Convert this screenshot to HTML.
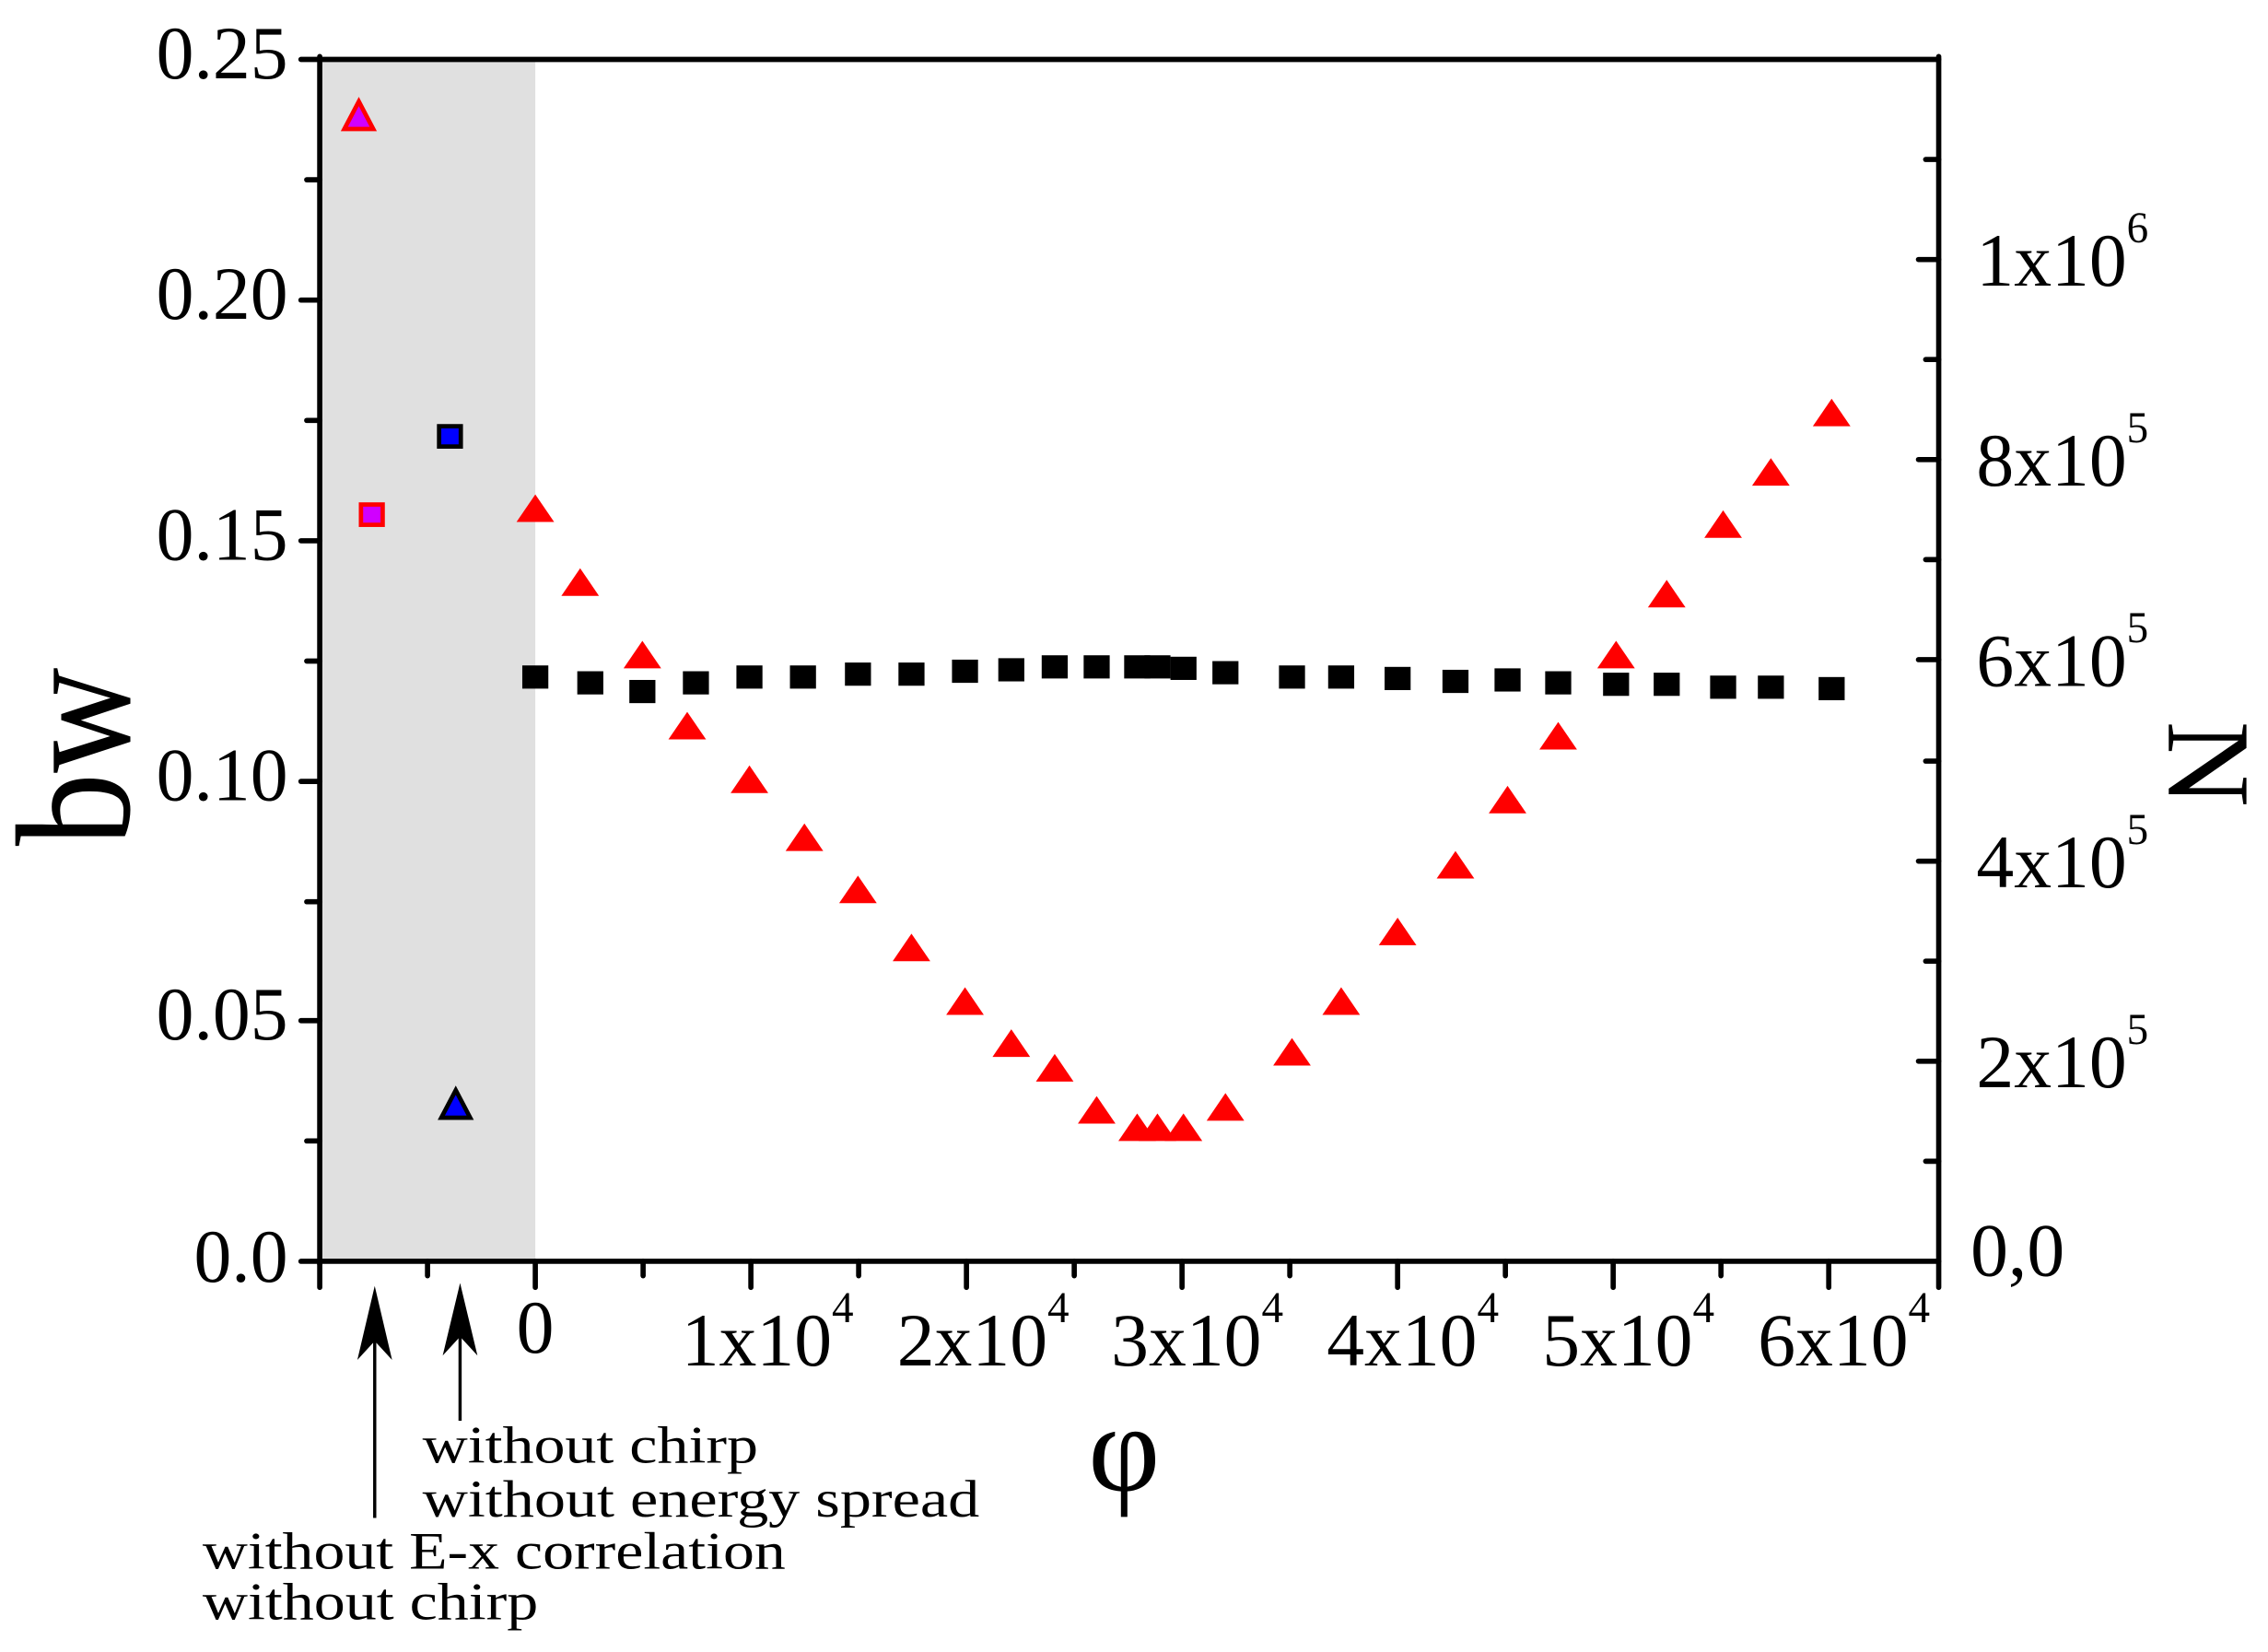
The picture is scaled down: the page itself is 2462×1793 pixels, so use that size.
<!DOCTYPE html>
<html><head><meta charset="utf-8"><style>
html,body{margin:0;padding:0;background:#fff;}
svg{display:block;}
text{font-family:"Liberation Serif","Times New Roman",serif;fill:#000;}
</style></head><body>
<svg width="2462" height="1793" viewBox="0 0 1567.6 1139.5" preserveAspectRatio="none" xmlns="http://www.w3.org/2000/svg">
<rect x="221" y="41" width="149" height="829" fill="#e0e0e0"/>
<g stroke="#000" stroke-width="3.6" fill="none" stroke-linecap="round">
<line x1="221" y1="41" x2="1340" y2="41"/>
<line x1="221" y1="39" x2="221" y2="872"/>
<line x1="1340" y1="39" x2="1340" y2="888"/>
<line x1="208" y1="870" x2="1340" y2="870"/>
<line x1="208" y1="41" x2="221" y2="41"/>
<line x1="212" y1="124" x2="221" y2="124"/>
<line x1="208" y1="207" x2="221" y2="207"/>
<line x1="212" y1="290" x2="221" y2="290"/>
<line x1="208" y1="373" x2="221" y2="373"/>
<line x1="212" y1="456" x2="221" y2="456"/>
<line x1="208" y1="539" x2="221" y2="539"/>
<line x1="212" y1="622" x2="221" y2="622"/>
<line x1="208" y1="704" x2="221" y2="704"/>
<line x1="212" y1="787" x2="221" y2="787"/>
<line x1="221" y1="870" x2="221" y2="888"/>
<line x1="295.5" y1="870" x2="295.5" y2="880"/>
<line x1="370" y1="870" x2="370" y2="888"/>
<line x1="444.5" y1="870" x2="444.5" y2="880"/>
<line x1="519" y1="870" x2="519" y2="888"/>
<line x1="593.5" y1="870" x2="593.5" y2="880"/>
<line x1="668" y1="870" x2="668" y2="888"/>
<line x1="742.5" y1="870" x2="742.5" y2="880"/>
<line x1="817" y1="870" x2="817" y2="888"/>
<line x1="891.5" y1="870" x2="891.5" y2="880"/>
<line x1="966" y1="870" x2="966" y2="888"/>
<line x1="1040.5" y1="870" x2="1040.5" y2="880"/>
<line x1="1115" y1="870" x2="1115" y2="888"/>
<line x1="1189.5" y1="870" x2="1189.5" y2="880"/>
<line x1="1264" y1="870" x2="1264" y2="888"/>
<line x1="1326" y1="732" x2="1340" y2="732"/>
<line x1="1326" y1="594" x2="1340" y2="594"/>
<line x1="1326" y1="455" x2="1340" y2="455"/>
<line x1="1326" y1="317" x2="1340" y2="317"/>
<line x1="1326" y1="179" x2="1340" y2="179"/>
<line x1="1331" y1="801" x2="1340" y2="801"/>
<line x1="1331" y1="663" x2="1340" y2="663"/>
<line x1="1331" y1="525" x2="1340" y2="525"/>
<line x1="1331" y1="386" x2="1340" y2="386"/>
<line x1="1331" y1="248" x2="1340" y2="248"/>
<line x1="1331" y1="110" x2="1340" y2="110"/>
</g>
<g font-size="52" text-anchor="end">
<text x="199" y="54">0.25</text>
<text x="199" y="220">0.20</text>
<text x="199" y="386">0.15</text>
<text x="199" y="552">0.10</text>
<text x="199" y="717">0.05</text>
<text x="199" y="884">0.0</text>
</g>
<g font-size="52">
<text x="370" y="933" text-anchor="middle">0</text>
<text x="471" y="942">1x10<tspan font-size="30" dy="-30">4</tspan></text>
<text x="620" y="942">2x10<tspan font-size="30" dy="-30">4</tspan></text>
<text x="768" y="942">3x10<tspan font-size="30" dy="-30">4</tspan></text>
<text x="917" y="942">4x10<tspan font-size="30" dy="-30">4</tspan></text>
<text x="1066" y="942">5x10<tspan font-size="30" dy="-30">4</tspan></text>
<text x="1215" y="942">6x10<tspan font-size="30" dy="-30">4</tspan></text>
</g>
<g font-size="52">
<text x="1362" y="880">0,0</text>
<text x="1366" y="750">2x10<tspan font-size="30" dy="-30">5</tspan></text>
<text x="1366" y="612">4x10<tspan font-size="30" dy="-30">5</tspan></text>
<text x="1366" y="473">6x10<tspan font-size="30" dy="-30">5</tspan></text>
<text x="1366" y="335">8x10<tspan font-size="30" dy="-30">5</tspan></text>
<text x="1366" y="197">1x10<tspan font-size="30" dy="-30">6</tspan></text>
</g>
<text transform="translate(89,522) rotate(-90)" font-size="113" text-anchor="middle" textLength="123" lengthAdjust="spacingAndGlyphs">bw</text>
<text transform="translate(1499,527) rotate(90)" font-size="82" text-anchor="middle">N</text>
<text x="777" y="1028" font-size="86" text-anchor="middle">φ</text>
<g font-size="36">
<text x="292" y="1009" textLength="232" lengthAdjust="spacingAndGlyphs">without chirp</text>
<text x="292" y="1046" textLength="385" lengthAdjust="spacingAndGlyphs">without energy spread</text>
<text x="140" y="1082" textLength="403" lengthAdjust="spacingAndGlyphs">without E-x correlation</text>
<text x="140" y="1117" textLength="232" lengthAdjust="spacingAndGlyphs">without chirp</text>
</g>
<g stroke="#000" stroke-width="2.2">
<line x1="259" y1="915" x2="259" y2="1047"/>
<line x1="318" y1="915" x2="318" y2="980"/>
</g>
<polygon points="259,887 271,938 259,925 247,938" fill="#000"/>
<polygon points="318,885 330,935 318,922 306,935" fill="#000"/>
<g fill="#000" id="sq"></g>
<g fill="#f00" id="tri"></g>
<polygon points="248,70 258,89 238,89" fill="#d000ff" stroke="#f00" stroke-width="3" stroke-linejoin="miter"/>
<rect x="249.5" y="348" width="15" height="14" fill="#d000ff" stroke="#f00" stroke-width="3"/>
<rect x="303.5" y="294" width="15" height="14" fill="#0000ff" stroke="#000" stroke-width="3"/>
<polygon points="315,752 325,771 305,771" fill="#0000ff" stroke="#000" stroke-width="3"/>
<script>
var tri=[[370,352],[401,403],[444,453],[475,502],[518,539],[556,579],[593,615],[630,655],[667,692],[699,721],[729,738],[758,767],[786,779],[800,779],[818,779],[847,765],[893,727],[927,692],[966,644],[1006,598],[1042,553],[1077,509],[1117,453],[1152,411],[1191,363],[1224,327],[1266,286]];
var sq=[[370,467],[408,471],[444,477],[481,471],[518,467],[555,467],[593,465],[630,465],[667,463],[699,462],[729,460],[758,460],[786,460],[800,460],[818,461],[847,464],[893,467],[927,467],[966,468],[1006,470],[1042,469],[1077,471],[1117,472],[1152,472],[1191,474],[1224,474],[1266,475]];
var ns="http://www.w3.org/2000/svg";
var g=document.getElementById("sq");
sq.forEach(function(p){var r=document.createElementNS(ns,"rect");r.setAttribute("x",p[0]-9);r.setAttribute("y",p[1]-8);r.setAttribute("width",18);r.setAttribute("height",16);g.appendChild(r);});
var t=document.getElementById("tri");
tri.forEach(function(p){var r=document.createElementNS(ns,"polygon");r.setAttribute("points",p[0]+","+(p[1]-11)+" "+(p[0]+13)+","+(p[1]+8)+" "+(p[0]-13)+","+(p[1]+8));t.appendChild(r);});
</script>
</svg>
</body></html>
